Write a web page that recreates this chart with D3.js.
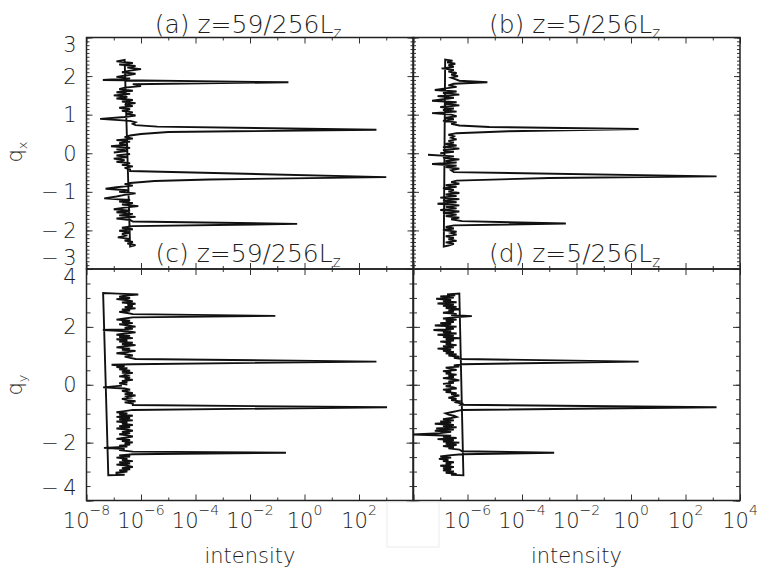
<!DOCTYPE html>
<html>
<head>
<meta charset="utf-8">
<script src="https://cdn.jsdelivr.net/npm/d3@7"></script>
<style>
body { margin: 0; background: #fff; }
text { font-family: "DejaVu Sans", "Liberation Sans", sans-serif; font-weight: 200; fill: #1e1e1e; }
</style>
</head>
<body>
<svg id="chart" width="761" height="575"></svg>
<script>
// tick values
var xMajorExp = [-8, -6, -4, -2, 0, 2, 4];
var xMinorExp = [-7, -5, -3, -1, 1, 3];
var xLabelExpLeft = [-8, -6, -4, -2, 0, 2];
var xLabelExpRight = [-6, -4, -2, 0, 2, 4];
var qxTicks = [-3, -2, -1, 0, 1, 2, 3];
var qyTicks = [-4, -2, 0, 2, 4];
var titles = ["(a) z=59/256L", "(b) z=5/256L", "(c) z=59/256L", "(d) z=5/256L"];

// (a) q_x, z=59/256 : q and log10(intensity)
var qA = [2.42, 2.38, 2.34, 2.30, 2.26, 2.22, 2.18, 2.14, 2.10, 2.06, 2.02, 1.98, 1.94, 1.90, 1.84, 1.79, 1.74, 1.70,
  1.66, 1.62, 1.58, 1.54, 1.50, 1.46, 1.42, 1.38, 1.34, 1.30, 1.26, 1.22, 1.18, 1.14, 1.10, 1.06, 1.02, 0.98, 0.94, 0.89,
  0.84, 0.80, 0.76, 0.73, 0.69, 0.61, 0.55, 0.50, 0.46,
  0.42, 0.38, 0.34, 0.30, 0.26, 0.22, 0.18, 0.14, 0.10, 0.06, 0.02, -0.02, -0.06, -0.10, -0.14, -0.18, -0.22, -0.26,
  -0.30, -0.34, -0.38, -0.42, -0.46, -0.62, -0.68, -0.72, -0.77,
  -0.80, -0.84, -0.88, -0.92, -0.96, -1.00, -1.04, -1.08, -1.12, -1.17, -1.21, -1.25, -1.29, -1.33, -1.37, -1.41, -1.45,
  -1.49, -1.53, -1.57, -1.61, -1.65, -1.69, -1.73, -1.77, -1.83, -1.89, -1.93, -1.97, -2.01, -2.05, -2.09, -2.13, -2.18,
  -2.22, -2.26, -2.30, -2.34, -2.38, -2.42];
var eA = [-6.6, -6.9, -6.3, -6.8, -6.2, -6.5, -6.0, -6.4, -6.7, -6.2, -6.5, -6.9, -6.4, -7.4, -0.59, -6.3, -6.0, -6.6,
  -6.8, -6.3, -6.9, -6.4, -7.0, -6.5, -6.9, -6.3, -6.7, -6.2, -6.6, -6.3, -6.8, -6.4, -6.7, -6.3, -6.5, -6.2, -6.6, -7.5,
  -6.4, -6.2, -6.3, -6.2, -5.4, 2.64, -5.0, -6.0, -6.4,
  -6.6, -6.3, -6.9, -6.4, -6.8, -6.5, -7.1, -6.4, -6.9, -6.5, -7.0, -6.4, -6.9, -6.5, -7.0, -6.6, -6.9, -6.4,
  -6.7, -6.3, -6.6, -6.4, -6.4, 3.0, -3.5, -5.5, -6.4,
  -6.6, -6.3, -6.9, -7.3, -6.5, -6.8, -6.2, -6.6, -6.9, -7.35, -6.4, -6.8, -6.3, -6.7, -6.1, -6.6, -7.0,
  -6.4, -6.9, -6.3, -6.8, -6.2, -6.9, -6.4, -6.3, -0.27, -6.3, -6.7, -6.3, -6.8, -6.4, -6.7, -6.5, -6.85,
  -6.4, -6.6, -6.3, -6.5, -6.2, -6.4];

// (b) q_x, z=5/256
var qB = [2.43, 2.40, 2.36, 2.32, 2.28, 2.24, 2.20, 2.16, 2.12, 2.08, 2.04, 2.00, 1.96, 1.92, 1.88, 1.84, 1.80, 1.76,
  1.72, 1.68, 1.64, 1.60, 1.56, 1.52, 1.48, 1.44, 1.40, 1.36, 1.32, 1.28, 1.24, 1.20, 1.16, 1.12, 1.08, 1.04, 1.00,
  0.96, 0.92, 0.88, 0.84, 0.80, 0.76, 0.72, 0.68, 0.63, 0.57, 0.52,
  0.48, 0.44, 0.40, 0.36, 0.32, 0.28, 0.24, 0.20, 0.16, 0.12, 0.08, 0.04, 0.00, -0.04, -0.08, -0.12, -0.16, -0.20,
  -0.24, -0.28, -0.32, -0.36, -0.40, -0.44, -0.49, -0.60, -0.64, -0.71,
  -0.75, -0.79, -0.83, -0.87, -0.91, -0.95, -0.99, -1.03, -1.07, -1.11, -1.15, -1.19, -1.23, -1.27, -1.31, -1.35,
  -1.39, -1.43, -1.47, -1.51, -1.55, -1.59, -1.63, -1.67, -1.71, -1.76, -1.82, -1.87, -1.91, -1.95, -1.99, -2.03,
  -2.07, -2.11, -2.15, -2.19, -2.23, -2.27, -2.31, -2.35, -2.39, -2.42];
var eB = [-6.82, -6.55, -6.75, -6.45, -6.7, -6.5, -6.95, -6.5, -6.7, -6.4, -6.6, -6.35, -6.6, -6.45, -6.3, -5.27, -6.5, -6.7,
  -6.4, -6.8, -7.2, -6.4, -6.9, -6.3, -7.1, -6.5, -6.9, -7.3, -6.4, -6.8, -6.3, -7.0, -6.5, -6.9, -6.4, -7.3, -6.6,
  -6.4, -6.8, -6.5, -6.9, -6.4, -6.6, -6.3, -5.2, 0.28, -4.5, -6.4,
  -6.7, -6.5, -6.6, -6.4, -6.7, -6.5, -6.8, -6.4, -6.9, -6.3, -6.9, -6.5, -7.0, -7.45, -6.5, -6.9, -6.3, -6.8,
  -6.4, -7.3, -6.4, -6.8, -6.3, -6.6, -6.5, 3.14, -3.0, -6.4,
  -6.6, -6.3, -6.8, -6.4, -6.9, -6.5, -6.7, -6.3, -6.8, -6.4, -7.0, -6.3, -6.9, -6.4, -7.1, -6.3,
  -6.8, -6.4, -7.0, -6.3, -6.9, -6.4, -6.8, -6.3, -6.6, -6.2, -2.39, -6.5, -6.8, -6.5, -6.9, -6.4,
  -6.6, -6.4, -6.8, -6.5, -6.7, -6.4, -6.8, -6.5, -6.7, -6.87];

// (c) q_y, z=59/256
var qC = [3.17, 3.15, 3.12, 3.08, 3.04, 3.00, 2.96, 2.92, 2.88, 2.84, 2.80, 2.76, 2.72, 2.68, 2.64, 2.60, 2.56, 2.52,
  2.48, 2.44, 2.38, 2.33, 2.29, 2.25, 2.21, 2.17, 2.13, 2.09, 2.05, 2.01, 1.97, 1.93, 1.89, 1.85, 1.81, 1.77, 1.73,
  1.69, 1.65, 1.61, 1.57, 1.53, 1.49, 1.45, 1.41, 1.37, 1.33, 1.29, 1.25, 1.21, 1.17, 1.13, 1.09, 1.05, 1.01, 0.97,
  0.93, 0.89, 0.80, 0.71, 0.69, 0.65, 0.61, 0.57, 0.53, 0.49, 0.45, 0.41, 0.37, 0.33, 0.29, 0.25, 0.21, 0.17, 0.13,
  0.09, 0.05, 0.01, -0.03, -0.09, -0.13, -0.17, -0.21, -0.25, -0.29, -0.33, -0.37, -0.41, -0.45, -0.49, -0.53, -0.57,
  -0.61, -0.65, -0.70, -0.78, -0.87, -0.91, -0.95, -0.99, -1.03, -1.07, -1.11, -1.15, -1.19, -1.23, -1.27, -1.31,
  -1.35, -1.39, -1.43, -1.47, -1.51, -1.55, -1.59, -1.63, -1.67, -1.71, -1.75, -1.79, -1.83, -1.87, -1.91, -1.95,
  -1.99, -2.03, -2.07, -2.11, -2.14, -2.18, -2.22, -2.26, -2.31, -2.35, -2.40, -2.44, -2.48, -2.52, -2.56, -2.60,
  -2.64, -2.68, -2.72, -2.76, -2.80, -2.84, -2.88, -2.92, -2.96, -3.00, -3.04, -3.08, -3.11, -3.13];
var eC = [-7.39, -6.85, -6.1, -6.6, -6.8, -6.4, -6.9, -6.5, -6.3, -6.7, -6.2, -6.5, -6.3, -6.6, -6.2, -6.7, -6.4, -6.8,
  -6.5, -6.3, -1.07, -6.3, -6.6, -6.9, -6.4, -6.7, -6.3, -6.8, -6.5, -6.2, -6.6, -6.3, -7.4, -6.5, -6.2, -6.6, -6.9,
  -6.4, -6.8, -6.3, -6.9, -6.5, -6.8, -6.3, -6.7, -6.2, -6.6, -6.9, -6.4, -6.7, -6.2, -6.5, -6.9, -6.5, -6.3, -6.6,
  -6.4, -6.2, 2.64, -6.3, -7.08, -6.6, -6.9, -6.5, -6.8, -6.4, -6.7, -6.3, -6.6, -6.5, -6.8, -6.4, -6.6, -6.3, -6.7,
  -6.5, -6.8, -6.5, -6.7, -7.39, -6.6, -6.4, -6.7, -6.5, -6.3, -6.6, -6.2, -6.5, -6.4, -6.7, -6.5, -6.2,
  -6.6, -6.3, -6.3, 3.03, -6.3, -6.6, -6.9, -6.5, -6.8, -6.3, -6.9, -6.4, -6.8, -6.3, -6.9, -6.5,
  -6.7, -6.3, -6.8, -6.4, -6.9, -6.5, -6.3, -6.7, -6.4, -6.8, -6.5, -6.3, -6.6, -6.9, -6.4, -6.7,
  -6.3, -6.6, -6.4, -6.8, -6.5, -7.36, -6.6, -6.8, -6.3, -0.68, -6.3, -6.8, -6.4, -6.9, -6.5, -6.7,
  -6.3, -6.8, -6.4, -6.9, -6.5, -6.3, -6.7, -6.4, -6.8, -6.5, -6.9, -6.9, -6.6, -7.2];

// (d) q_y, z=5/256
var qD = [3.15, 3.12, 3.09, 3.05, 3.01, 2.97, 2.93, 2.89, 2.85, 2.81, 2.77, 2.73, 2.69, 2.65, 2.61, 2.57, 2.53, 2.49,
  2.45, 2.41, 2.37, 2.33, 2.29, 2.25, 2.21, 2.17, 2.13, 2.09, 2.05, 2.01, 1.97, 1.93, 1.89, 1.85, 1.81, 1.77, 1.73,
  1.69, 1.65, 1.61, 1.57, 1.53, 1.49, 1.45, 1.41, 1.37, 1.33, 1.29, 1.25, 1.21, 1.17, 1.13, 1.09, 1.05, 1.01, 0.97,
  0.93, 0.89, 0.80, 0.71, 0.67, 0.63, 0.59, 0.55, 0.51, 0.47, 0.43, 0.39, 0.35, 0.31, 0.27, 0.23, 0.19, 0.15, 0.11,
  0.07, 0.03, -0.01, -0.05, -0.09, -0.13, -0.17, -0.21, -0.25, -0.29, -0.33, -0.37, -0.41, -0.45, -0.49, -0.53,
  -0.57, -0.61, -0.65, -0.69, -0.78, -0.87, -0.91, -0.95, -0.99, -1.03, -1.07, -1.11, -1.15, -1.19, -1.23, -1.27,
  -1.31, -1.35, -1.39, -1.43, -1.47, -1.51, -1.55, -1.59, -1.63, -1.67, -1.72, -1.76, -1.80, -1.84, -1.88, -1.92,
  -1.96, -2.00, -2.04, -2.08, -2.12, -2.16, -2.20, -2.24, -2.30, -2.35, -2.40, -2.44, -2.48, -2.52, -2.56, -2.60,
  -2.64, -2.68, -2.72, -2.76, -2.80, -2.84, -2.88, -2.92, -2.96, -3.00, -3.04, -3.08, -3.11, -3.13];
var eD = [-6.30, -6.75, -6.45, -7.0, -6.5, -7.15, -6.6, -6.9, -6.4, -7.1, -6.5, -6.9, -6.4, -6.8, -6.3, -6.7, -6.5, -6.9,
  -6.4, -6.6, -5.84, -6.5, -6.9, -6.4, -6.8, -6.5, -7.0, -6.6, -7.2, -6.4, -6.8, -6.5, -7.25, -6.6, -6.9, -6.4, -7.1,
  -6.5, -6.9, -6.3, -6.8, -6.5, -7.0, -6.6, -6.8, -6.4, -6.9, -6.5, -7.1, -6.6, -6.9, -6.5, -6.8, -6.4, -6.7, -6.3,
  -6.5, -6.2, 0.28, -6.2, -6.5, -6.3, -6.8, -6.6, -6.4, -6.9, -6.6, -6.8, -6.4, -6.7, -6.5, -6.9, -6.5, -6.3, -6.7,
  -6.5, -6.9, -6.6, -6.8, -6.5, -6.4, -6.9, -6.6, -6.8, -6.4, -6.6, -6.3, -6.5, -6.7, -6.4, -6.6,
  -6.3, -6.4, -6.2, -6.25, 3.14, -6.2, -6.4, -6.6, -6.8, -6.7, -6.5, -6.4, -6.6, -6.9, -6.5, -7.0,
  -6.6, -7.2, -6.5, -6.9, -6.4, -7.15, -6.5, -7.2, -6.6, -7.0, -8.0, -6.6, -6.9, -6.4, -7.1, -6.5,
  -6.9, -6.3, -6.8, -6.4, -6.9, -6.5, -6.7, -6.3, -6.2, -2.82, -6.2, -6.7, -7.0, -6.6, -7.05, -6.7,
  -6.9, -6.5, -6.8, -6.6, -7.0, -6.5, -6.9, -6.6, -6.9, -6.5, -6.8, -6.4, -6.6, -6.15];

var colLeft = [86.5, 413], panelW = 327;
var rowTop = [37.5, 269], panelH = 231.5;

var panels = [
  {q: qA, e: eA, col: 0, row: 0, title: titles[0]},
  {q: qB, e: eB, col: 1, row: 0, title: titles[1]},
  {q: qC, e: eC, col: 0, row: 1, title: titles[2]},
  {q: qD, e: eD, col: 1, row: 1, title: titles[3]}
];

var svg = d3.select("#chart");
var sup = function (v) { return v < 0 ? "\u2212" + (-v) : "" + v; };

// spectra are stored in FFT order: q >= 0 ascending, then q < 0 ascending
function fftOrder(q, e) {
  var pts = q.map(function (d, i) { return {q: d, e: e[i]}; });
  var pos = pts.filter(function (p) { return p.q >= 0; }).sort(function (a, b) { return a.q - b.q; });
  var neg = pts.filter(function (p) { return p.q < 0; }).sort(function (a, b) { return a.q - b.q; });
  return pos.concat(neg);
}

panels.forEach(function (p, i) {
  var x0 = colLeft[p.col], y0 = rowTop[p.row];
  var x = d3.scaleLog().domain([1e-8, 1e4]).range([x0, x0 + panelW]);
  var y = d3.scaleLinear().domain(p.row === 0 ? [-3, 3] : [-4, 4]).range([y0 + panelH, y0]);
  var yMajor = p.row === 0 ? qxTicks : qyTicks;
  var yMinor = p.row === 0 ? d3.range(-30, 31).map(function (k) { return k / 10; }) : d3.range(-8, 9).map(function (k) { return k / 2; });
  var majLen = p.row === 0 ? 6 : 7, minLen = p.row === 0 ? 3 : 4;

  var g = svg.append("g");

  svg.append("clipPath").attr("id", "clip" + i)
    .append("rect").attr("x", x0).attr("y", y0).attr("width", panelW).attr("height", panelH);

  function ax(gen, tx, ty) {
    g.append("g").attr("transform", "translate(" + tx + "," + ty + ")").call(gen)
      .call(function (s) {
        s.select(".domain").remove();
        s.selectAll(".tick line").attr("stroke", "#333").attr("stroke-width", 1);
      });
  }
  var majX = xMajorExp.map(function (k) { return Math.pow(10, k); });
  var minX = xMinorExp.map(function (k) { return Math.pow(10, k); });
  ax(d3.axisBottom(x).tickValues(majX).tickSize(-6).tickFormat(""), 0, y0 + panelH);
  ax(d3.axisBottom(x).tickValues(minX).tickSize(-3).tickFormat(""), 0, y0 + panelH);
  ax(d3.axisTop(x).tickValues(majX).tickSize(-6).tickFormat(""), 0, y0);
  ax(d3.axisTop(x).tickValues(minX).tickSize(-3).tickFormat(""), 0, y0);
  ax(d3.axisLeft(y).tickValues(yMajor).tickSize(-majLen).tickFormat(""), x0, 0);
  ax(d3.axisLeft(y).tickValues(yMinor).tickSize(-minLen).tickFormat(""), x0, 0);
  ax(d3.axisRight(y).tickValues(yMajor).tickSize(-majLen).tickFormat(""), x0 + panelW, 0);
  ax(d3.axisRight(y).tickValues(yMinor).tickSize(-minLen).tickFormat(""), x0 + panelW, 0);

  g.append("rect").attr("x", x0).attr("y", y0).attr("width", panelW).attr("height", panelH)
    .attr("fill", "none").attr("stroke", "#222").attr("stroke-width", 1.5);

  var line = d3.line()
    .x(function (d) { return x(Math.pow(10, d.e)); })
    .y(function (d) { return y(d.q); });

  g.append("path").datum(fftOrder(p.q, p.e))
    .attr("clip-path", "url(#clip" + i + ")")
    .attr("d", line)
    .attr("fill", "none").attr("stroke", "#111").attr("stroke-width", 1.9)
    .attr("stroke-linejoin", "miter");

  // y tick labels on the left column
  if (p.col === 0) {
    var last = yMajor[yMajor.length - 1];
    g.selectAll(".ylab").data(yMajor).enter().append("text")
      .attr("x", x0 - 10)
      .attr("y", function (d) { return y(d); })
      .attr("dy", function (d) {
        if (d === last) return p.row === 0 ? "0.68em" : "0.7em";
        if (d === -last) return p.row === 0 ? "-0.2em" : "-0.26em";
        return "0.36em";
      })
      .attr("text-anchor", "end")
      .style("font-size", "21px")
      .text(function (d) { return d < 0 ? "\u2212\u2009" + (-d) : d; });
  }

  // x tick labels on the bottom row (the shared corner labels sit under the blank box)
  if (p.row === 1) {
    (p.col === 0 ? xLabelExpLeft : xLabelExpRight).forEach(function (k) {
      var t = g.append("text").attr("x", x(Math.pow(10, k))).attr("y", 528)
        .attr("text-anchor", "middle").style("font-size", "21px");
      t.append("tspan").text("10");
      t.append("tspan").attr("dy", -13).style("font-size", "14px").text(sup(k));
    });
    g.append("text").attr("x", x0 + panelW / 2).attr("y", 563)
      .attr("text-anchor", "middle").style("font-size", "21px").text("intensity");
  }

  // panel title
  var tt = g.append("text").attr("x", x0 + panelW / 2 - 2).attr("y", p.row === 0 ? 33 : 262)
    .attr("text-anchor", "middle").style("font-size", "25px");
  tt.append("tspan").text(p.title);
  tt.append("tspan").attr("dy", 5).style("font-size", "15px").text("z");
});

// y axis titles
[["x", 152], ["y", 385]].forEach(function (d) {
  var t = svg.append("text").attr("transform", "translate(22," + d[1] + ") rotate(-90)")
    .attr("text-anchor", "middle").style("font-size", "21px");
  t.append("tspan").text("q");
  t.append("tspan").attr("dy", 5).style("font-size", "13px").text(d[0]);
});

// blank box over the shared corner of the x labels
svg.append("rect").attr("x", 387).attr("y", 502).attr("width", 52).attr("height", 45)
  .attr("fill", "#fff").attr("stroke", "#ebebeb").attr("stroke-width", 1);
</script>
</body>
</html>
